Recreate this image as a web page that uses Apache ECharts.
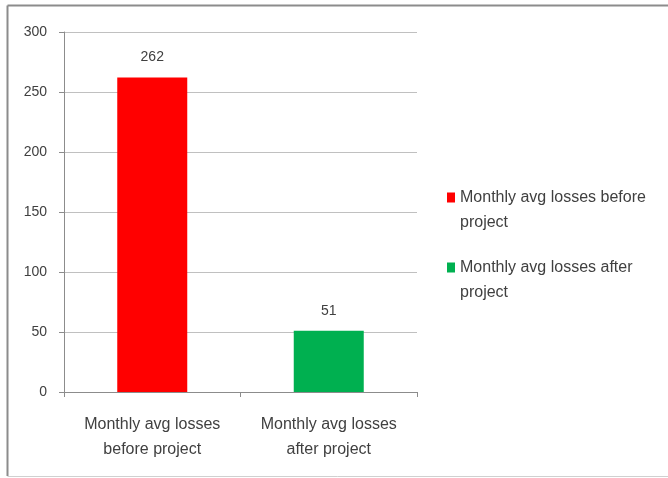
<!DOCTYPE html>
<html>
<head>
<meta charset="utf-8">
<script src="https://cdn.jsdelivr.net/npm/echarts@6/dist/echarts.min.js"></script>
<style>html,body{margin:0;padding:0;background:#fff}#c{width:668px;height:478px}</style>
</head>
<body>
<div id="c"></div>
<script>
const categories = ['Monthly avg losses before project', 'Monthly avg losses after project'];
const seriesNames = ['Monthly avg losses before project', 'Monthly avg losses after project'];
const beforeValues = [262, '-'];
const afterValues = ['-', 51];
const yTicks = [0, 50, 100, 150, 200, 250, 300];

const txt = '#404040';
const font = '"Liberation Sans", Arial, sans-serif';
const chart = echarts.init(document.getElementById('c'), null, {renderer: 'canvas'});
chart.setOption({
  animation: false,
  backgroundColor: '#fff',
  graphic: [
    {type: 'line', shape: {x1: 7.5, y1: 5.5, x2: 668, y2: 5.5}, style: {stroke: '#8c8c8c', lineWidth: 2}, silent: true},
    {type: 'line', shape: {x1: 7.5, y1: 5.5, x2: 7.5, y2: 476}, style: {stroke: '#8c8c8c', lineWidth: 2}, silent: true},
    {type: 'line', shape: {x1: 7.5, y1: 476.5, x2: 668, y2: 476.5}, style: {stroke: '#d0d0d0', lineWidth: 1}, silent: true}
  ],
  grid: {left: 64, right: 251, top: 32, bottom: 86},
  xAxis: {
    type: 'category', data: categories,
    axisLine: {lineStyle: {color: '#8c8c8c'}},
    axisTick: {show: true, length: 5, alignWithLabel: false, lineStyle: {color: '#8c8c8c'}},
    axisLabel: {
      color: txt, fontFamily: font, fontSize: 16, lineHeight: 25, margin: 20, interval: 0,
      formatter: v => v.replace(' losses ', ' losses\n')
    }
  },
  yAxis: {
    type: 'value', min: yTicks[0], max: yTicks[yTicks.length - 1], interval: 50,
    axisLine: {show: true, lineStyle: {color: '#8c8c8c'}},
    axisTick: {show: true, length: 5, lineStyle: {color: '#8c8c8c'}},
    axisLabel: {color: txt, fontFamily: font, fontSize: 14, margin: 17},
    splitLine: {lineStyle: {color: '#c0c0c0'}}
  },
  legend: {
    orient: 'vertical', left: 447, top: 160, padding: 0, itemGap: -5,
    itemWidth: 8, itemHeight: 10, icon: 'rect',
    data: seriesNames,
    formatter: n => '\n' + n.replace(' project', '\nproject'),
    textStyle: {color: txt, fontFamily: font, fontSize: 16, lineHeight: 25}
  },
  series: [
    {
      name: seriesNames[0], type: 'bar', data: beforeValues, barWidth: 70, barGap: '-100%',
      itemStyle: {color: '#ff0000'},
      label: {show: true, position: 'top', distance: 13, color: txt, fontFamily: font, fontSize: 14}
    },
    {
      name: seriesNames[1], type: 'bar', data: afterValues, barWidth: 70, barGap: '-100%',
      itemStyle: {color: '#00b050'},
      label: {show: true, position: 'top', distance: 13, color: txt, fontFamily: font, fontSize: 14}
    }
  ]
});
</script>
</body>
</html>
